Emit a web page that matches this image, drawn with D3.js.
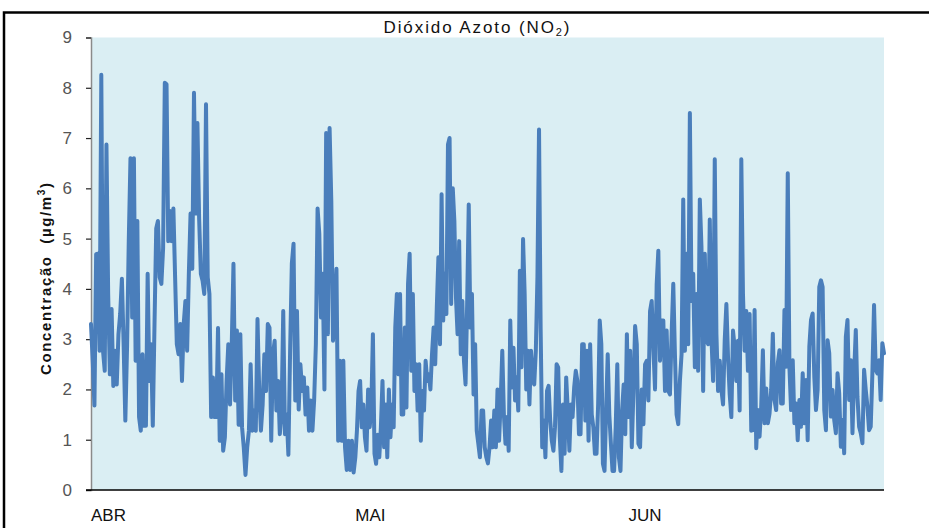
<!DOCTYPE html>
<html>
<head>
<meta charset="utf-8">
<script src="https://cdn.jsdelivr.net/npm/d3@7"></script>
<style>
  body { margin: 0; background: #fff; }
  svg { display: block; font-family: "Liberation Sans", Arial, sans-serif; }
</style>
</head>
<body>
<svg id="chart"></svg>
<script>
// hourly-ish NO2 readings, one array per month
const abril = [
  3.3, 2.57, 1.68, 4.69, 4.7, 2.77, 8.26, 2.77, 2.37, 6.87, 3.9, 2.3, 3.6, 2.07, 2.77, 2.1,
  3.1, 3.5, 4.2, 2.9, 1.38, 2.83, 4.95, 6.6, 3.43, 6.6, 2.57, 5.35, 1.45, 1.18, 2.7, 1.28,
  1.28, 4.3, 2.17, 2.9, 1.28, 3.3, 5.2, 5.35, 4.23, 4.1, 4.8, 8.1, 8.07, 4.95, 5.55, 4.95,
  5.6, 4.23, 2.9, 2.7, 3.3, 2.17, 3.3, 3.76, 2.77, 4.3, 5.5, 4.4, 7.9, 5.5, 7.3, 5.4,
  4.3, 4.16, 3.9, 7.67, 4.23, 3.9, 1.45, 2.24, 1.45, 1.45, 3.22, 0.98, 2.3, 0.78,
  1.05, 2.17, 2.9, 1.7, 2.9, 4.5, 1.78, 3.17, 1.3, 3.1, 1.25, 0.85, 0.3, 0.85, 1.18, 2.5,
  1.18, 1.58, 1.18, 3.4, 1.97, 1.18, 1.7, 2.7, 1.97, 3.3, 3.23, 0.98, 2.7, 2.97, 1.58, 2.17,
  1.11, 1.5, 3.56, 1.11, 1.5, 0.7, 2.77, 4.5, 4.9, 1.78, 3.56, 1.6, 2.5, 1.97, 2.24, 1.5,
  2.04, 1.18, 1.78, 1.18, 1.78, 2.9, 5.6, 5.1, 3.43, 4.3, 2.0, 7.1, 3.1, 7.2, 5.75, 2.97,
  3.63, 4.4, 0.98, 2.57, 0.98, 2.57, 0.85, 0.4, 0.98, 0.4, 0.98, 0.35
];
const maio = [
  0.65, 1.18, 1.97, 2.17, 1.25, 1.7, 1.05, 0.78, 2.0, 1.25, 1.64, 3.1, 0.72, 0.52, 1.1, 0.65,
  1.25, 2.17, 0.85, 1.7, 0.65, 2.0, 1.05, 1.7, 1.25, 3.23, 3.9, 2.3, 3.9, 1.5, 1.5, 3.23,
  1.64, 4.1, 4.7, 2.37, 3.9, 1.97, 2.5, 1.58, 2.5, 0.98, 1.97, 1.58, 2.57, 2.17, 2.3, 2.0,
  2.7, 3.23, 2.5, 3.63, 4.63, 2.9, 5.88, 3.37, 4.3, 3.5, 6.87, 7.0, 3.7, 6.0, 5.35, 3.83,
  3.1, 4.95, 2.7, 3.76, 2.57, 2.1, 3.7, 5.68, 3.23, 3.9, 1.9, 2.9, 1.18, 0.92, 0.65, 1.58,
  1.58, 0.85, 0.65,
  0.53, 0.85, 1.38, 0.85, 1.58, 0.85, 2.0, 0.98, 1.78, 2.77, 1.5, 0.92, 1.45, 0.78, 3.37, 2.04,
  2.83, 1.78, 2.24, 1.58, 4.36, 2.44, 4.99, 3.9, 2.0, 2.77, 1.7, 2.77, 2.17, 2.1, 2.77, 4.23,
  7.17, 3.23, 0.85, 1.38, 0.65, 1.97, 2.07, 1.38, 0.98, 0.78, 1.25, 2.5, 2.44, 1.05, 0.38, 1.7,
  0.72, 2.24, 1.58, 0.78, 1.7, 1.45, 2.04, 2.37, 2.17, 1.11, 1.11, 2.9, 2.9, 1.38, 2.77, 0.98,
  2.9, 1.5, 1.25, 0.72, 0.72, 1.7, 3.37, 2.9, 0.52, 0.38, 1.58, 2.7, 1.5, 0.92, 0.38, 0.38,
  1.25, 2.5, 0.65, 0.38, 1.58, 2.1, 1.11, 3.1
];
const junho = [
  1.45, 2.77, 0.85, 1.97, 3.26, 2.9, 0.92, 0.85, 2.0, 1.31, 2.5, 2.57, 1.78, 3.56, 3.76, 2.83,
  2.0, 4.1, 4.76, 2.57, 3.37, 3.37, 1.97, 3.17, 1.97, 1.9, 3.1, 4.1, 2.7, 1.5, 1.31, 2.17,
  2.7, 5.78, 2.77, 4.7, 2.9, 7.5, 3.76, 4.3, 2.44, 3.9, 2.37, 5.78, 4.82, 1.97, 4.7, 2.97,
  2.9, 5.38, 3.03, 2.17, 6.58, 3.1, 1.97, 2.57, 2.0, 1.7, 2.97, 3.7, 2.64, 1.9, 1.45, 3.17,
  2.83, 2.17, 2.97, 1.58, 6.58, 3.9, 2.77, 3.56, 2.37, 3.5, 1.18,
  1.19, 3.58, 0.83, 1.59, 1.06, 1.66, 2.78, 1.33, 2.02, 1.33, 1.52, 1.99, 3.11, 1.79, 1.59, 2.52,
  2.78, 1.72, 1.72, 3.58, 2.45, 6.3, 2.45, 1.59, 2.58, 1.33, 1.72, 0.99, 1.79, 1.26, 2.32, 1.33,
  2.19, 0.99, 2.85, 3.38, 3.51, 2.25, 1.59, 1.99, 4.04, 4.17, 4.04, 1.59, 1.19, 2.98, 2.72, 1.46,
  1.99, 1.39, 1.13, 2.32, 1.92, 0.86, 1.39, 0.73, 3.05, 3.38, 1.79, 2.58, 1.13, 2.32, 3.18, 1.85,
  1.26, 1.13, 0.93, 2.39, 1.99, 1.66, 1.19, 1.26, 2.32, 3.68, 2.39, 2.32, 2.58, 1.79, 2.92, 2.72
];

const monthLabels = ['ABR', 'MAI', 'JUN'];
const monthStarts = [Date.UTC(2011, 3, 1), Date.UTC(2011, 4, 1), Date.UTC(2011, 5, 1)];
const periodEnd = Date.UTC(2011, 5, 30);
const yTicks = [0, 1, 2, 3, 4, 5, 6, 7, 8, 9];

const width = 929, height = 528;
const plot = {left: 91, right: 884, top: 37.5, bottom: 490};

// spread each month's readings evenly over that month
const series = [abril, maio, junho];
const data = [];
series.forEach((vals, m) => {
  const t0 = monthStarts[m];
  const t1 = m < 2 ? monthStarts[m + 1] : periodEnd;
  const div = m < 2 ? vals.length : vals.length - 1;
  vals.forEach((v, i) => data.push({date: new Date(t0 + i * (t1 - t0) / div), value: v}));
});

const x = d3.scaleUtc()
    .domain([monthStarts[0], periodEnd])
    .range([plot.left, plot.right]);

const y = d3.scaleLinear()
    .domain([0, 9])
    .range([plot.bottom, plot.top]);

const svg = d3.select('#chart')
    .attr('width', width)
    .attr('height', height);

// outer chart frame (only top and left edges are in view)
svg.append('path')
    .attr('d', 'M4,540V12.5H940')
    .attr('fill', 'none')
    .attr('stroke', '#000')
    .attr('stroke-width', 2.5);

svg.append('rect')
    .attr('x', plot.left)
    .attr('y', plot.top)
    .attr('width', plot.right - plot.left)
    .attr('height', plot.bottom - plot.top)
    .attr('fill', '#daeef3');

// y axis
const yAxis = svg.append('g')
    .attr('transform', `translate(${plot.left},0)`)
    .call(d3.axisLeft(y).tickValues(yTicks).tickSize(5).tickPadding(14));
yAxis.select('.domain').attr('stroke', '#8a8a8a').attr('stroke-width', 1.5);
yAxis.selectAll('.tick line').attr('stroke', '#222').attr('stroke-width', 1.2);
yAxis.selectAll('.tick text')
    .attr('font-size', 17)
    .attr('font-family', '"Liberation Sans", Arial, sans-serif')
    .attr('fill', '#555');

// data line
const line = d3.line()
    .x(d => x(d.date))
    .y(d => y(d.value));

svg.append('path')
    .datum(data)
    .attr('d', line)
    .attr('fill', 'none')
    .attr('stroke', '#4a7ebb')
    .attr('stroke-width', 4)
    .attr('stroke-linejoin', 'round')
    .attr('stroke-linecap', 'round');

// x axis baseline
svg.append('line')
    .attr('x1', plot.left - 5)
    .attr('x2', plot.right)
    .attr('y1', y(0))
    .attr('y2', y(0))
    .attr('stroke', '#000')
    .attr('stroke-width', 1.5);

svg.append('g')
  .selectAll('text')
  .data(monthLabels)
  .join('text')
    .attr('x', (d, i) => x(monthStarts[i]))
    .attr('y', 521)
    .attr('font-size', 17)
    .attr('fill', '#111')
    .text(d => d);

// title
const title = svg.append('text')
    .attr('x', 476.5)
    .attr('y', 33)
    .attr('text-anchor', 'middle')
    .attr('font-size', 17)
    .attr('fill', '#111')
    .attr('textLength', 186)
    .attr('lengthAdjust', 'spacing');
title.append('tspan').text('Dióxido Azoto (NO');
title.append('tspan').attr('font-size', 11).attr('dy', 3).text('2');
title.append('tspan').attr('dy', -3).text(')');

// y label
const ylab = svg.append('text')
    .attr('transform', 'translate(51,279) rotate(-90)')
    .attr('text-anchor', 'middle')
    .attr('font-size', 15)
    .attr('font-weight', 'bold')
    .attr('fill', '#111')
    .attr('textLength', 192)
    .attr('lengthAdjust', 'spacing')
    .style('white-space', 'pre');
ylab.append('tspan').text('Concentração  (µg/m');
ylab.append('tspan').attr('font-size', 10).attr('dy', -6).text('3');
ylab.append('tspan').attr('dy', 6).text(')');
</script>
</body>
</html>
